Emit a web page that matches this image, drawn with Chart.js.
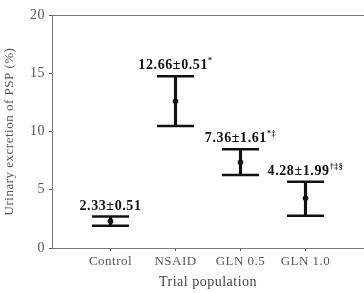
<!DOCTYPE html>
<html>
<head>
<meta charset="utf-8">
<script src="https://cdn.jsdelivr.net/npm/chart.js@4.4.0/dist/chart.umd.min.js"></script>
<style>
  html, body { margin: 0; padding: 0; background: #fff; }
  #wrap { width: 364px; height: 293px; }
</style>
</head>
<body>
<div id="wrap"><canvas id="pspChart"></canvas></div>
<script>
// data
const groups = ['Control', 'NSAID', 'GLN 0.5', 'GLN 1.0'];
const means = [2.3, 12.6, 7.36, 4.27];
const lows = [1.9, 10.47, 6.27, 2.77];
const highs = [2.7, 14.74, 8.47, 5.69];
const labelText = ['2.33\u00b10.51', '12.66\u00b10.51', '7.36\u00b11.61', '4.28\u00b11.99'];
const labelSup = ['', '*', '*\u2021', '\u2020\u2021\u00a7'];
const yTicks = [0, 5, 10, 15, 20];

const serif = '"Liberation Serif", "DejaVu Serif", serif';
const xIdx = groups.map((g, i) => i);

// boxed frame + value labels
const framePlugin = {
  id: 'frame',
  beforeDraw(chart) {
    chart.ctx.letterSpacing = '0.5px';
  },
  afterDatasetsDraw(chart) {
    const { ctx, chartArea: a, scales } = chart;
    ctx.save();
    ctx.strokeStyle = '#777';
    ctx.lineWidth = 1;
    ctx.beginPath();
    ctx.moveTo(a.left, a.top + 0.5);
    ctx.lineTo(a.right, a.top + 0.5);
    ctx.stroke();

    ctx.fillStyle = '#111';
    ctx.textBaseline = 'alphabetic';
    ctx.letterSpacing = '0.6px';
    labelText.forEach((t, i) => {
      const x = scales.x.getPixelForValue(i);
      const y = scales.y.getPixelForValue(highs[i]) - 7;
      ctx.font = 'bold 14px ' + serif;
      const w1 = ctx.measureText(t).width;
      ctx.font = 'bold 8px ' + serif;
      const w2 = labelSup[i] ? ctx.measureText(labelSup[i]).width : 0;
      const x0 = x - (w1 + w2) / 2;
      ctx.font = 'bold 14px ' + serif;
      ctx.textAlign = 'left';
      ctx.fillText(t, x0, y);
      if (labelSup[i]) {
        ctx.font = 'bold 8px ' + serif;
        ctx.fillText(labelSup[i], x0 + w1, y - 6);
      }
    });
    ctx.restore();
  }
};

const pspChart = new Chart(document.getElementById('pspChart'), {
  data: {
    datasets: [
      {
        type: 'bar',
        data: xIdx.map(i => ({ x: i, y: [lows[i], highs[i]] })),
        backgroundColor: '#111',
        barThickness: 2.5
      },
      {
        type: 'scatter',
        data: xIdx.map(i => ({ x: i, y: highs[i] })),
        pointStyle: 'line',
        radius: 18.5,
        borderColor: '#111',
        borderWidth: 2.5
      },
      {
        type: 'scatter',
        data: xIdx.map(i => ({ x: i, y: lows[i] })),
        pointStyle: 'line',
        radius: 18.5,
        borderColor: '#111',
        borderWidth: 2.5
      },
      {
        type: 'scatter',
        data: xIdx.map(i => ({ x: i, y: means[i] })),
        pointStyle: 'circle',
        radius: 2.8,
        backgroundColor: '#111',
        borderColor: '#111',
        borderWidth: 0
      }
    ]
  },
  options: {
    responsive: true,
    maintainAspectRatio: false,
    animation: false,
    layout: { autoPadding: false, padding: { top: 15, right: 0, left: 0, bottom: 0 } },
    plugins: {
      legend: { display: false },
      tooltip: { enabled: false }
    },
    scales: {
      x: {
        type: 'linear',
        offset: false,
        min: -0.9,
        max: 3.9,
        afterBuildTicks: s => { s.ticks = xIdx.map(v => ({ value: v })); },
        afterFit: s => { s.height = 45; s.paddingLeft = 0; s.paddingRight = 0; },
        ticks: {
          callback: v => groups[v],
          color: '#555',
          padding: 3,
          maxRotation: 0,
          font: { family: serif, size: 13 }
        },
        grid: { offset: false, drawOnChartArea: false, tickLength: 3, color: '#555' },
        border: { color: '#777', width: 1 },
        title: {
          display: true,
          text: 'Trial population',
          color: '#444',
          padding: { top: 0, bottom: 2 },
          font: { family: serif, size: 14 }
        }
      },
      y: {
        min: 0,
        max: 20,
        afterBuildTicks: s => { s.ticks = yTicks.map(v => ({ value: v })); },
        afterFit: s => { s.width = 52; },
        ticks: {
          color: '#555',
          padding: 4,
          font: { family: serif, size: 14 }
        },
        grid: { drawOnChartArea: false, tickLength: 3, color: '#555' },
        border: { color: '#777', width: 1 },
        title: {
          display: true,
          text: 'Urinary excretion of PSP (%)',
          color: '#555',
          padding: { top: 2, bottom: 0 },
          font: { family: serif, size: 13 }
        }
      }
    }
  },
  plugins: [framePlugin]
});
</script>
</body>
</html>
